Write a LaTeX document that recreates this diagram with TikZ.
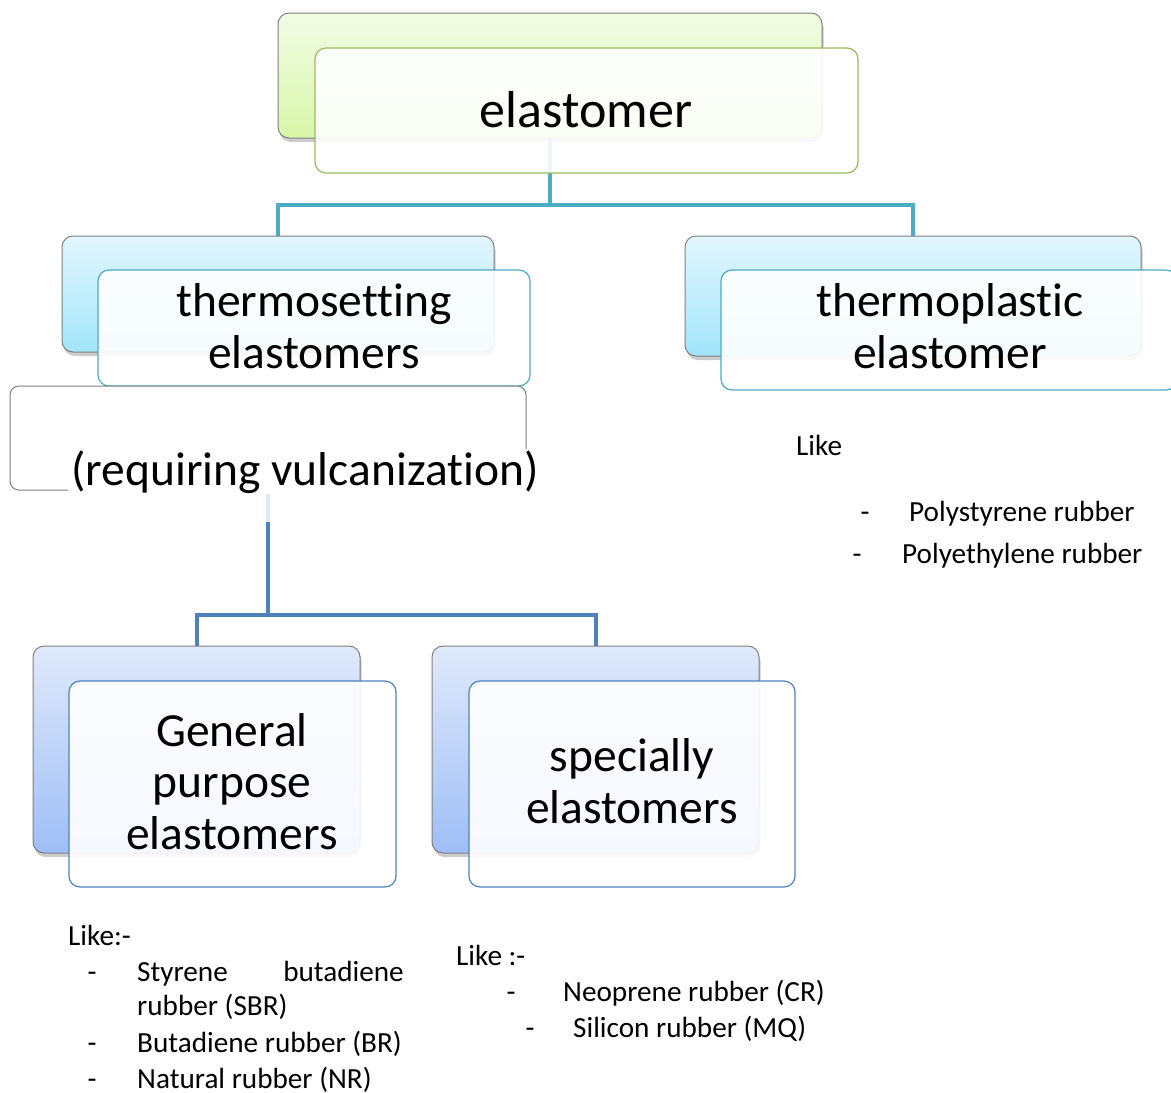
\documentclass[tikz,border=0pt]{standalone}
\usepackage{fontspec}
\setmainfont{Carlito}[Ligatures={NoCommon}]
\usetikzlibrary{shadows}
\definecolor{grtop}{HTML}{F2FCE6}
\definecolor{grbot}{HTML}{D8F6A8}
\definecolor{grline}{HTML}{9BBB59}
\definecolor{cytop}{HTML}{E2F6FD}
\definecolor{cybot}{HTML}{A2E5FA}
\definecolor{cyline}{HTML}{4BACC6}
\definecolor{bltop}{HTML}{E0E9FB}
\definecolor{blbot}{HTML}{9EBEF6}
\definecolor{blline}{HTML}{4F81BD}
\definecolor{boxgray}{HTML}{808080}
\pgfdeclarelayer{bg}
\pgfsetlayers{bg,main}
\tikzset{
  backbase/.style={draw=boxgray, line width=1pt, rounded corners=11pt, inner sep=0pt, outer sep=0pt,
    drop shadow={shadow xshift=1.5pt, shadow yshift=-4pt, opacity=0.4}},
  greenback/.style={backbase, top color=grtop, bottom color=grbot},
  cyanback/.style={backbase, top color=cytop, bottom color=cybot},
  blueback/.style={backbase, top color=bltop, bottom color=blbot},
  frontbase/.style={line width=1.2pt, rounded corners=11pt, fill=white, fill opacity=0.9, inner sep=0pt, outer sep=0pt},
  bigA/.style={font=\fontsize{52}{62}\selectfont, anchor=base, inner sep=0pt},
  bigB/.style={font=\fontsize{47.5}{57}\selectfont, anchor=base, inner sep=0pt},
  small/.style={font=\fontsize{29.2}{36}\selectfont, anchor=base west, inner sep=0pt},
  dashmark/.style={font=\fontsize{29.2}{36}\selectfont, anchor=base, inner sep=0pt},
  cyconn/.style={draw=cyline, line width=4pt},
  blconn/.style={draw=blline, line width=4pt},
  blconnlight/.style={draw=blline!18, line width=4pt},
}
\begin{document}
\begin{tikzpicture}[x=1pt,y=-1pt]
\useasboundingbox (0,0) rectangle (1171,1093);
\clip (0,0) rectangle (1171,1093);

% level 0
\node[greenback, minimum width=544, minimum height=125] (eb) at (550,75.5) {};
\node[frontbase, draw=grline, minimum width=543, minimum height=125] (ef) at (586.5,110.5) {};
\node[bigA] (et) at (586,127) {elastomer};

% level 1
\node[cyanback, minimum width=432, minimum height=116] (tsb) at (278,294) {};
\node[frontbase, draw=cyline, minimum width=432, minimum height=116] (tsf) at (314,328) {};
\node[bigB] (ts1) at (314,316) {thermosetting};
\node[bigB] (ts2) at (314,368) {elastomers};

\node[cyanback, minimum width=456, minimum height=120] (tpb) at (913,296) {};
\node[frontbase, draw=cyline, minimum width=456, minimum height=120] (tpf) at (949,330) {};
\node[bigB] (tp1) at (950,316) {thermoplastic};
\node[bigB] (tp2) at (950,368) {elastomer};

% vulcanization box
\node[draw=boxgray, line width=1pt, rounded corners=9pt, fill=white, minimum width=516, minimum height=104, inner sep=0pt] (vb) at (268,438) {};
\node[bigB, fill=white, inner xsep=3pt, inner ysep=1pt] (vt) at (305,485) {(requiring vulcanization)};

% level 2
\node[blueback, minimum width=327, minimum height=207] (gb) at (196.5,749.5) {};
\node[frontbase, draw=blline, minimum width=327, minimum height=206] (gf) at (232.5,784) {};
\node[bigB] (g1) at (232,746) {General};
\node[bigB] (g2) at (232,797) {purpose};
\node[bigB] (g3) at (232,849) {elastomers};

\node[blueback, minimum width=327, minimum height=207] (sb) at (595.5,749.5) {};
\node[frontbase, draw=blline, minimum width=326, minimum height=206] (sf) at (632,784) {};
\node[bigB] (s1) at (632,771) {specially};
\node[bigB] (s2) at (632,823) {elastomers};

% connectors
\coordinate (j1) at (550,205);
\coordinate (j2a) at (268,522);
\coordinate (j2) at (268,615);
\begin{pgfonlayer}{bg}
\draw[cyconn] (eb.south) -- (j1) -| (tsb.north);
\draw[cyconn] (j1) -| (tpb.north);
\draw[blconnlight] (vb.south) -- (j2a);
\draw[blconn] (j2a) -- (j2) -| (gb.north);
\draw[blconn] (j2) -| (sb.north);
\end{pgfonlayer}

% lists
\node[small] (l1) at (796,455) {Like};
\node[dashmark] (d11) at (865,521) {-};
\node[small] (l11) at (909,521) {Polystyrene rubber};
\node[dashmark] (d12) at (857,563) {-};
\node[small] (l12) at (902,563) {Polyethylene rubber};

\node[small] (l2) at (68,945) {Like:-};
\node[dashmark] (d21) at (92,981) {-};
\node[small] (l21a) at (137,981) {Styrene};
\node[small, anchor=base east] (l21b) at (404,981) {butadiene};
\node[small] (l21c) at (137,1015) {rubber (SBR)};
\node[dashmark] (d22) at (92,1052) {-};
\node[small] (l22) at (137,1052) {Butadiene rubber (BR)};
\node[dashmark] (d23) at (92,1088) {-};
\node[small] (l23) at (137,1088) {Natural rubber (NR)};

\node[small] (l3) at (456,965) {Like :-};
\node[dashmark] (d31) at (511,1001) {-};
\node[small] (l31) at (563,1001) {Neoprene rubber (CR)};
\node[dashmark] (d32) at (530,1037) {-};
\node[small] (l32) at (573,1037) {Silicon rubber (MQ)};
\end{tikzpicture}
\end{document}
